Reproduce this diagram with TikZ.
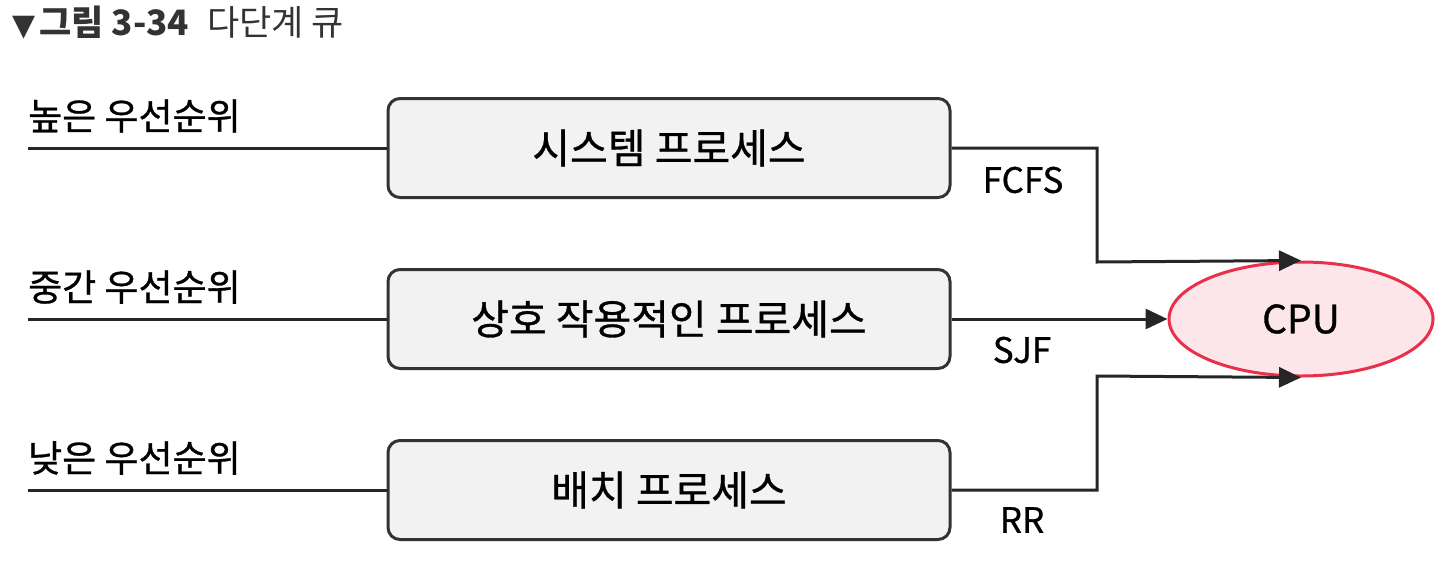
\documentclass[tikz,border=0pt]{standalone}
\usepackage{fontspec}
\setmainfont{Noto Sans CJK KR}
\newfontfamily\thickfont{Noto Sans CJK KR}[FakeBold=0.8]
\newfontfamily\symfont{DejaVu Sans}
\usetikzlibrary{shapes.geometric,arrows.meta}
\definecolor{boxfill}{HTML}{F2F2F2}
\definecolor{boxline}{HTML}{333333}
\definecolor{cpufill}{HTML}{FDE6EA}
\definecolor{cpuline}{HTML}{E8304A}
\definecolor{titlecol}{HTML}{333333}
\tikzset{
  procbox/.style={draw=boxline, fill=boxfill, line width=3pt, rounded corners=12pt,
    minimum width=562pt, minimum height=99pt, inner sep=0pt, font=\thickfont\fontsize{41}{46}\selectfont},
  prio/.style={anchor=west, inner sep=0pt, font=\thickfont\fontsize{37}{42}\selectfont},
  alg/.style={inner sep=0pt, font=\thickfont\fontsize{35}{40}\selectfont},
  wire/.style={draw=black!85, line width=3pt},
  arr/.style={wire, -{Triangle[length=22pt,width=20pt]}},
  cpunode/.style={ellipse, draw=cpuline, fill=cpufill, line width=3pt,
    minimum width=264pt, minimum height=114pt, inner sep=0pt, font=\thickfont\fontsize{39}{44}\selectfont}
}
\begin{document}
\begin{tikzpicture}[x=1pt,y=-1pt]
\useasboundingbox (0,0) rectangle (1446,560);
% title
\node[anchor=base west, inner sep=0pt, text=titlecol] (title) at (12,35)
  {{\symfont\fontsize{30}{34}\selectfont ▼}\hspace{4pt}{\fontsize{35}{40}\selectfont\bfseries 그림 3-34}\hspace{18pt}{\fontsize{35}{40}\selectfont 다단계 큐}};
% boxes
\node[procbox] (b1) at (669,148) {시스템 프로세스};
\node[procbox] (b2) at (669,319) {상호 작용적인 프로세스};
\node[procbox] (b3) at (669,490) {배치 프로세스};
% CPU
\node[cpunode] (cpu) at (1301,319) {CPU};
% left lines and labels
\coordinate (l1) at (28,148);
\coordinate (l2) at (28,319);
\coordinate (l3) at (28,490);
\draw[wire] (l1) -- (b1.west);
\draw[wire] (l2) -- (b2.west);
\draw[wire] (l3) -- (b3.west);
\node[prio] (p1) at (28,116) {높은 우선순위};
\node[prio] (p2) at (28,287) {중간 우선순위};
\node[prio] (p3) at (28,458) {낮은 우선순위};
% connectors
\coordinate (k1) at (1097,262);
\coordinate (k3) at (1097,376);
\draw[arr] (b1.east) -| (k1) -- (cpu.north);
\draw[arr] (b2.east) -- (cpu.west);
\draw[arr] (b3.east) -| (k3) -- (cpu.south);
\node[alg] (a1) at (1023,180) {FCFS};
\node[alg] (a2) at (1022,350) {SJF};
\node[alg] (a3) at (1022,520) {RR};
\end{tikzpicture}
\end{document}
